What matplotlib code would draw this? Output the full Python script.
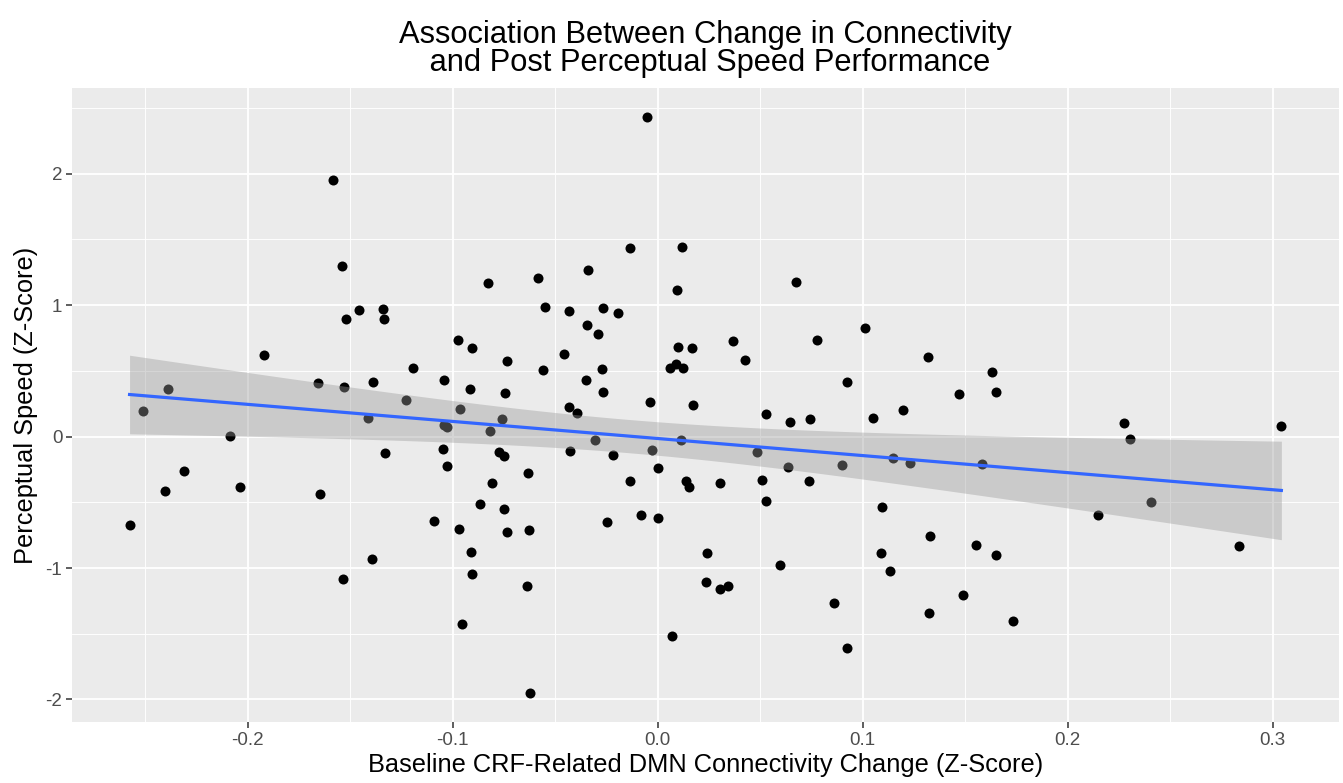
import numpy as np
import matplotlib
matplotlib.use("Agg")
import matplotlib.pyplot as plt
from matplotlib.ticker import MultipleLocator

plt.rcParams['font.family'] = ['Liberation Sans', 'DejaVu Sans']

# connectivity change (x) and perceptual speed (y)
conn_change = [
    -0.2576, -0.2512, -0.2403, -0.2390, -0.2310, -0.2086, -0.2037, -0.1919,
    -0.1657, -0.1645, -0.1582, -0.1540, -0.1530, -0.1520, -0.1533, -0.1457,
    -0.1413, -0.1389, -0.1392, -0.1341, -0.1337, -0.1330,
    -0.1226, -0.1194, -0.1089, -0.1044, -0.1042, -0.1028, -0.1047, -0.1029,
    -0.0976, -0.0966, -0.0969, -0.0956, -0.0917, -0.0907, -0.0909, -0.0904,
    -0.0867, -0.0826, -0.0820, -0.0810, -0.0772, -0.0748, -0.0759, -0.0743,
    -0.0737, -0.0751, -0.0733, -0.0631, -0.0626, -0.0636, -0.0624, -0.0582,
    -0.0561, -0.0548, -0.0455, -0.0433, -0.0433, -0.0428, -0.0394, -0.0350,
    -0.0346, -0.0341, -0.0304, -0.0289, -0.0272, -0.0267, -0.0267, -0.0247,
    -0.0220, -0.0194, -0.0135, -0.0133, -0.0083, -0.0054, -0.0040, -0.0026,
    0.0002, 0.0003, 0.0062, 0.0071, 0.0088, 0.0094, 0.0101, 0.0112,
    0.0119, 0.0124, 0.0140, 0.0155, 0.0166, 0.0172, 0.0239, 0.0234,
    0.0306, 0.0306, 0.0345,
    0.0366, 0.0426, 0.0483, 0.0509, 0.0527, 0.0530, 0.0598, 0.0637,
    0.0645, 0.0675, 0.0737, 0.0745, 0.0776, 0.0859, 0.0899, 0.0921,
    0.0925, 0.1010, 0.1050, 0.1091, 0.1093, 0.1135, 0.1148, 0.1195,
    0.1229, 0.1320, 0.1322, 0.1330, 0.1470, 0.1489, 0.1551, 0.1584,
    0.1629, 0.1649, 0.1649, 0.1735,
    0.2148, 0.2276, 0.2304, 0.2404, 0.2833, 0.3042,
]
speed_z = [
    -0.674, 0.196, -0.417, 0.361, -0.260, 0.002, -0.384, 0.618,
    0.407, -0.438, 1.949, 1.298, 0.374, 0.893, -1.081, 0.962,
    0.143, 0.415, -0.931, 0.972, 0.893, -0.125,
    0.277, 0.524, -0.640, 0.427, 0.092, 0.074, -0.092, -0.227,
    0.733, 0.211, -0.705, -1.425, 0.359, 0.674, -0.875, -1.048,
    -0.514, 1.168, 0.046, -0.354, -0.117, -0.150, 0.137, 0.331,
    0.578, -0.548, -0.725, -0.280, -0.710, -1.135, -1.952, 1.204,
    0.506, 0.985, 0.631, 0.954, 0.224, -0.112, 0.178, 0.430,
    0.847, 1.267, -0.028, 0.784, 0.511, 0.977, 0.338, -0.646,
    -0.142, 0.939, 1.433, -0.338, -0.598, 2.433, 0.265, -0.099,
    -0.239, -0.618, 0.524, -1.517, 0.555, 1.115, 0.682, -0.028,
    1.440, 0.519, -0.336, -0.382, 0.674, 0.244, -0.888, -1.107,
    -0.351, -1.158, -1.135,
    0.731, 0.583, -0.117, -0.333, 0.173, -0.491, -0.977, -0.234,
    0.112, 1.173, -0.341, 0.132, 0.735, -1.265, -0.216, -1.608,
    0.417, 0.830, 0.143, -0.883, -0.532, -1.020, -0.165, 0.206,
    -0.198, 0.603, -1.344, -0.756, 0.321, -1.206, -0.827, -0.206,
    0.491, 0.341, -0.901, -1.405,
    -0.595, 0.107, -0.020, -0.499, -0.834, 0.079,
]

x_ticks = [-0.2, -0.1, 0.0, 0.1, 0.2, 0.3]
x_tick_labels = ["-0.2", "-0.1", "0.0", "0.1", "0.2", "0.3"]
y_ticks = [-2, -1, 0, 1, 2]
y_tick_labels = ["-2", "-1", "0", "1", "2"]

x = np.array(conn_change)
y = np.array(speed_z)

# linear fit with 95% confidence band (like geom_smooth(method = "lm"))
n = len(x)
slope, intercept = np.polyfit(x, y, 1)
resid = y - (slope * x + intercept)
s_err = np.sqrt(np.sum(resid ** 2) / (n - 2))
x_fit = np.linspace(x.min(), x.max(), 80)
y_fit = slope * x_fit + intercept
t_val = 1.9774  # t(0.975, df = n - 2)
se_fit = s_err * np.sqrt(1 / n + (x_fit - x.mean()) ** 2 / np.sum((x - x.mean()) ** 2))

fig = plt.figure(figsize=(13.43, 7.83), dpi=100)
ax = fig.add_axes([0.0536, 0.0779, 0.9434, 0.8097])
ax.set_facecolor('#EBEBEB')

ax.scatter(x, y, s=52, color='black', zorder=3, linewidths=0)
ax.fill_between(x_fit, y_fit - t_val * se_fit, y_fit + t_val * se_fit,
                color='#999999', alpha=0.4, linewidth=0, zorder=4)
ax.plot(x_fit, y_fit, color='#3366FF', linewidth=2.3, zorder=5)

# ggplot-like expansion of 5% on each side
xr = x.max() - x.min()
yr = y.max() - y.min()
ax.set_xlim(x.min() - 0.05 * xr, x.max() + 0.05 * xr)
ax.set_ylim(y.min() - 0.05 * yr, y.max() + 0.05 * yr)

ax.set_xticks(x_ticks)
ax.set_xticklabels(x_tick_labels)
ax.set_yticks(y_ticks)
ax.set_yticklabels(y_tick_labels)
ax.xaxis.set_minor_locator(MultipleLocator(0.05))
ax.yaxis.set_minor_locator(MultipleLocator(0.5))

ax.grid(True, which='major', color='white', linewidth=1.3, zorder=0)
ax.grid(True, which='minor', color='white', linewidth=0.65, zorder=0)
ax.set_axisbelow(True)
for sp in ax.spines.values():
    sp.set_visible(False)

ax.tick_params(axis='both', which='major', length=4, width=1.1, color='#333333',
               labelcolor='#4D4D4D', labelsize=13.5, pad=3)
ax.tick_params(axis='both', which='minor', length=0)

ax.set_xlabel('Baseline CRF-Related DMN Connectivity Change (Z-Score)', fontsize=18.3, labelpad=3)
ax.set_ylabel('Perceptual Speed (Z-Score)', fontsize=18.3, labelpad=5)
ax.set_title('Association Between Change in Connectivity\n and Post Perceptual Speed Performance',
             fontsize=22.2, pad=12, linespacing=0.93)

fig.savefig('out.png', dpi=100, facecolor='white')
